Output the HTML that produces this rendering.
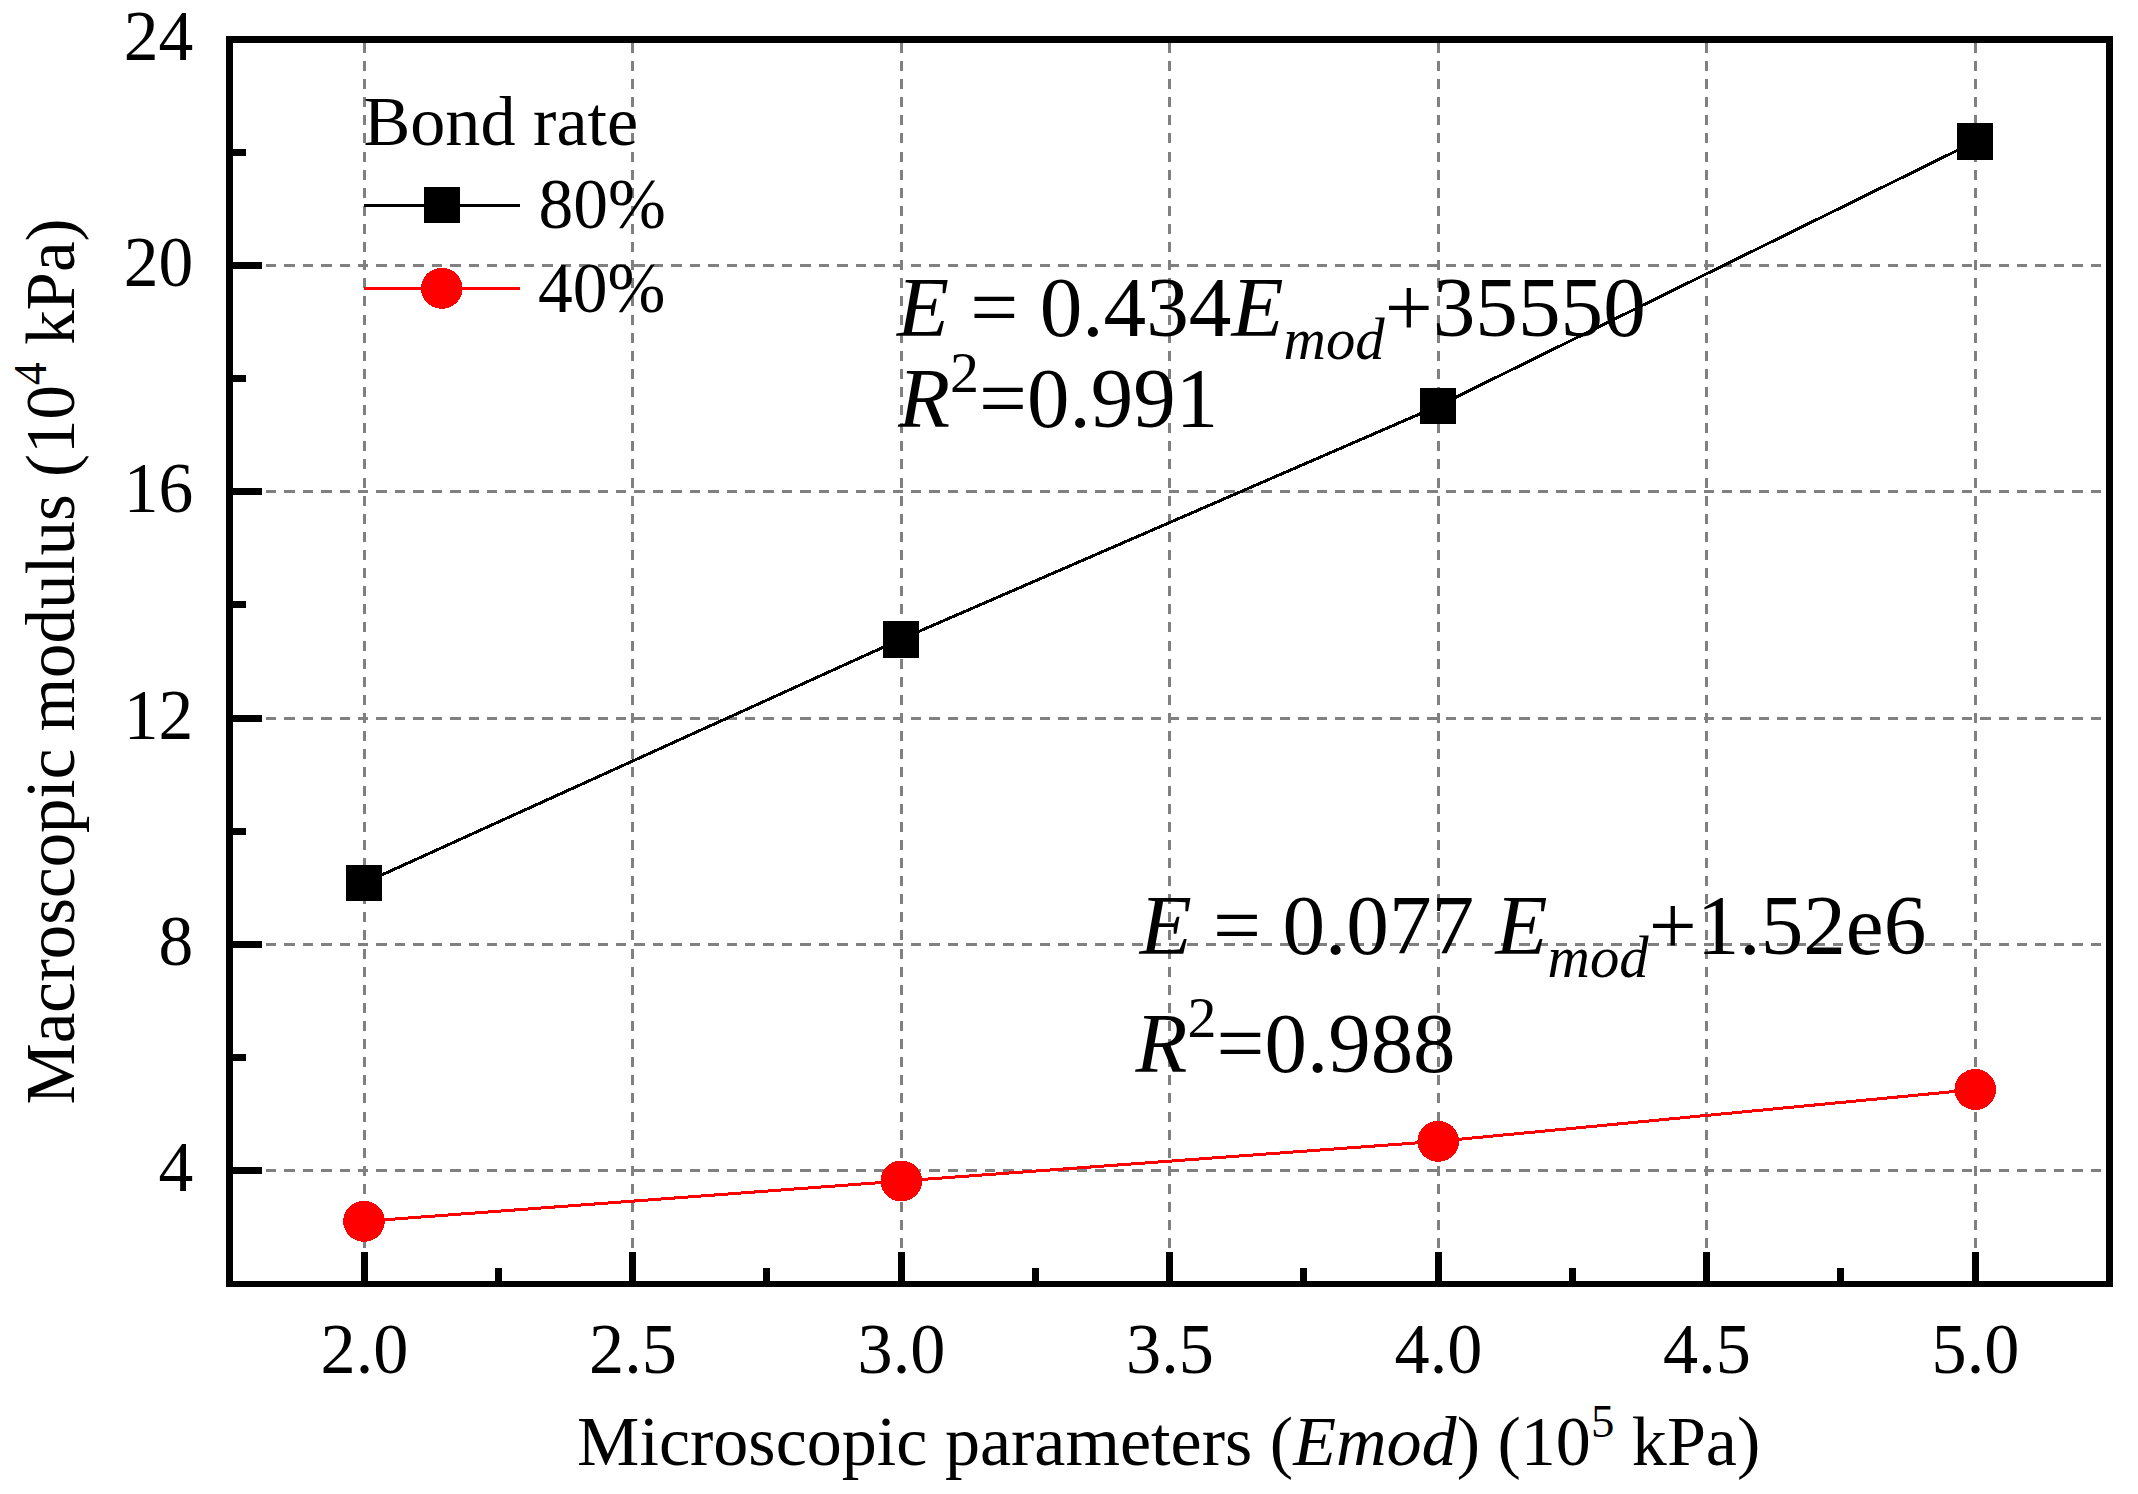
<!DOCTYPE html>
<html lang="en"><head><meta charset="utf-8"><title>Macroscopic modulus vs microscopic parameters</title>
<style>html,body{margin:0;padding:0;background:#fff;overflow:hidden}svg{display:block}text{font-family:"Liberation Serif","Times New Roman",serif;fill:#000}.i{font-style:italic}</style></head><body>
<svg width="2138" height="1494" viewBox="0 0 2138 1494">
<rect width="2138" height="1494" fill="#fff"/>
<g stroke="#808080" stroke-width="3" fill="none" shape-rendering="crispEdges">
<line x1="228.9" y1="1170.5" x2="2109.5" y2="1170.5" stroke-dasharray="10.44 7.994"/>
<line x1="228.9" y1="944.5" x2="2109.5" y2="944.5" stroke-dasharray="10.44 7.994"/>
<line x1="228.9" y1="718.5" x2="2109.5" y2="718.5" stroke-dasharray="10.44 7.994"/>
<line x1="228.9" y1="491.5" x2="2109.5" y2="491.5" stroke-dasharray="10.44 7.994"/>
<line x1="228.9" y1="265.5" x2="2109.5" y2="265.5" stroke-dasharray="10.44 7.994"/>
<line x1="364.5" y1="1284.6" x2="364.5" y2="39.5" stroke-dasharray="10 8.114"/>
<line x1="632.5" y1="1284.6" x2="632.5" y2="39.5" stroke-dasharray="10 8.114"/>
<line x1="901.5" y1="1284.6" x2="901.5" y2="39.5" stroke-dasharray="10 8.114"/>
<line x1="1169.5" y1="1284.6" x2="1169.5" y2="39.5" stroke-dasharray="10 8.114"/>
<line x1="1438.5" y1="1284.6" x2="1438.5" y2="39.5" stroke-dasharray="10 8.114"/>
<line x1="1706.5" y1="1284.6" x2="1706.5" y2="39.5" stroke-dasharray="10 8.114"/>
<line x1="1975.5" y1="1284.6" x2="1975.5" y2="39.5" stroke-dasharray="10 8.114"/>
</g>
<g fill="#000" shape-rendering="crispEdges">
<rect x="226" y="36" width="1887" height="7"/><rect x="226" y="1281" width="1887" height="6"/><rect x="226" y="36" width="7" height="1251"/><rect x="2106" y="36" width="7" height="1251"/>
<rect x="230" y="1167" width="32" height="7"/>
<rect x="230" y="941" width="32" height="7"/>
<rect x="230" y="715" width="32" height="7"/>
<rect x="230" y="488" width="32" height="7"/>
<rect x="230" y="262" width="32" height="7"/>
<rect x="230" y="1054" width="16" height="7"/>
<rect x="230" y="828" width="16" height="7"/>
<rect x="230" y="601" width="16" height="7"/>
<rect x="230" y="375" width="16" height="7"/>
<rect x="230" y="149" width="16" height="7"/>
<rect x="361" y="1252" width="7" height="32"/>
<rect x="629" y="1252" width="7" height="32"/>
<rect x="898" y="1252" width="7" height="32"/>
<rect x="1166" y="1252" width="7" height="32"/>
<rect x="1435" y="1252" width="7" height="32"/>
<rect x="1703" y="1252" width="7" height="32"/>
<rect x="1972" y="1252" width="7" height="32"/>
<rect x="495" y="1268" width="7" height="16"/>
<rect x="763" y="1268" width="7" height="16"/>
<rect x="1032" y="1268" width="7" height="16"/>
<rect x="1300" y="1268" width="7" height="16"/>
<rect x="1569" y="1268" width="7" height="16"/>
<rect x="1837" y="1268" width="7" height="16"/>
</g>
<g shape-rendering="crispEdges">
<polyline fill="none" stroke="#000" stroke-width="3" points="364,883 901,639.2 1438,406 1975.1,141.6"/>
<polyline fill="none" stroke="#f00" stroke-width="3" points="364,1221.3 901.3,1181 1438.2,1141.3 1975.3,1089.5"/>
<rect x="346" y="865" width="36" height="36" fill="#000"/>
<rect x="883" y="621" width="36" height="37" fill="#000"/>
<rect x="1420" y="388" width="36" height="36" fill="#000"/>
<rect x="1957" y="123" width="36" height="37" fill="#000"/>
<ellipse cx="364" cy="1221.3" rx="20.8" ry="20.5" fill="#f00"/>
<ellipse cx="901.3" cy="1181" rx="20.8" ry="20.5" fill="#f00"/>
<ellipse cx="1438.2" cy="1141.3" rx="20.8" ry="20.5" fill="#f00"/>
<ellipse cx="1975.3" cy="1089.5" rx="20.8" ry="20.5" fill="#f00"/>
<line x1="364" y1="205.3" x2="520.2" y2="205.3" stroke="#000" stroke-width="3"/>
<rect x="424" y="187" width="36" height="36" fill="#000"/>
<line x1="364" y1="288.5" x2="520.2" y2="288.5" stroke="#f00" stroke-width="3"/>
<ellipse cx="441.8" cy="288.3" rx="20.8" ry="20.5" fill="#f00"/>
</g>
<g font-size="69.5">
<text id="lg0" transform="translate(363.4 144.8) scale(1.01 1.0)" xml:space="preserve">Bond rate</text>
<text id="lg1" transform="translate(538.5 228.1) scale(1.0 1.02)" xml:space="preserve">80%</text>
<text id="lg2" transform="translate(538 312.3) scale(1.0 1.02)" xml:space="preserve">40%</text>
<text id="yt4" transform="translate(193.3 1191.12) scale(1.0 1.02)" text-anchor="end" xml:space="preserve">4</text>
<text id="yt8" transform="translate(193.3 964.9) scale(1.0 1.02)" text-anchor="end" xml:space="preserve">8</text>
<text id="yt12" transform="translate(193.3 738.67) scale(1.0 1.02)" text-anchor="end" xml:space="preserve">12</text>
<text id="yt16" transform="translate(193.3 512.45) scale(1.0 1.02)" text-anchor="end" xml:space="preserve">16</text>
<text id="yt20" transform="translate(193.3 286.22) scale(1.0 1.02)" text-anchor="end" xml:space="preserve">20</text>
<text id="yt24" transform="translate(193.3 60.0) scale(1.0 1.02)" text-anchor="end" xml:space="preserve">24</text>
<text id="xt20" transform="translate(364.5 1372.7) scale(1.011 1.02)" text-anchor="middle" xml:space="preserve">2.0</text>
<text id="xt25" transform="translate(633.0 1372.7) scale(1.011 1.02)" text-anchor="middle" xml:space="preserve">2.5</text>
<text id="xt30" transform="translate(901.5 1372.7) scale(1.011 1.02)" text-anchor="middle" xml:space="preserve">3.0</text>
<text id="xt35" transform="translate(1170.0 1372.7) scale(1.011 1.02)" text-anchor="middle" xml:space="preserve">3.5</text>
<text id="xt40" transform="translate(1438.5 1372.7) scale(1.011 1.02)" text-anchor="middle" xml:space="preserve">4.0</text>
<text id="xt45" transform="translate(1707.0 1372.7) scale(1.011 1.02)" text-anchor="middle" xml:space="preserve">4.5</text>
<text id="xt50" transform="translate(1975.5 1372.7) scale(1.011 1.02)" text-anchor="middle" xml:space="preserve">5.0</text>
<text id="xtitle" transform="translate(577.1 1464.9) scale(1.0085 1.0)" xml:space="preserve">Microscopic parameters (<tspan class="i">Emod</tspan>) (10<tspan font-size="46.5" dy="-28.4">5</tspan><tspan dy="28.4"> kPa)</tspan></text>
<text id="ytitle" transform="translate(74 1104.5) rotate(-90) scale(0.9914 1.0)" xml:space="preserve">Macroscopic modulus (10<tspan font-size="46.5" dy="-28.4">4</tspan><tspan dy="28.4"> kPa)</tspan></text>
</g>
<g font-size="83.5">
<text id="a1" transform="translate(896.9 336) scale(1.021 1.015)" xml:space="preserve"><tspan class="i">E</tspan> = 0.434<tspan class="i">E</tspan><tspan class="i" font-size="57.5" dy="22.5">mod</tspan><tspan dy="-22.5">+35550</tspan></text>
<text id="a2" transform="translate(898.2 427.2) scale(1.0176 1.015)" xml:space="preserve"><tspan class="i">R</tspan><tspan font-size="57" dy="-34.5">2</tspan><tspan dy="34.5">=0.991</tspan></text>
<text id="a3" transform="translate(1139.7 954) scale(1.0208 1.015)" xml:space="preserve"><tspan class="i">E</tspan> = 0.077 <tspan class="i">E</tspan><tspan class="i" font-size="57.5" dy="22.5">mod</tspan><tspan dy="-22.5">+1.52e6</tspan></text>
<text id="a4" transform="translate(1135.6 1071.8) scale(1.0176 1.015)" xml:space="preserve"><tspan class="i">R</tspan><tspan font-size="57" dy="-34.5">2</tspan><tspan dy="34.5">=0.988</tspan></text>
</g>
</svg></body></html>
